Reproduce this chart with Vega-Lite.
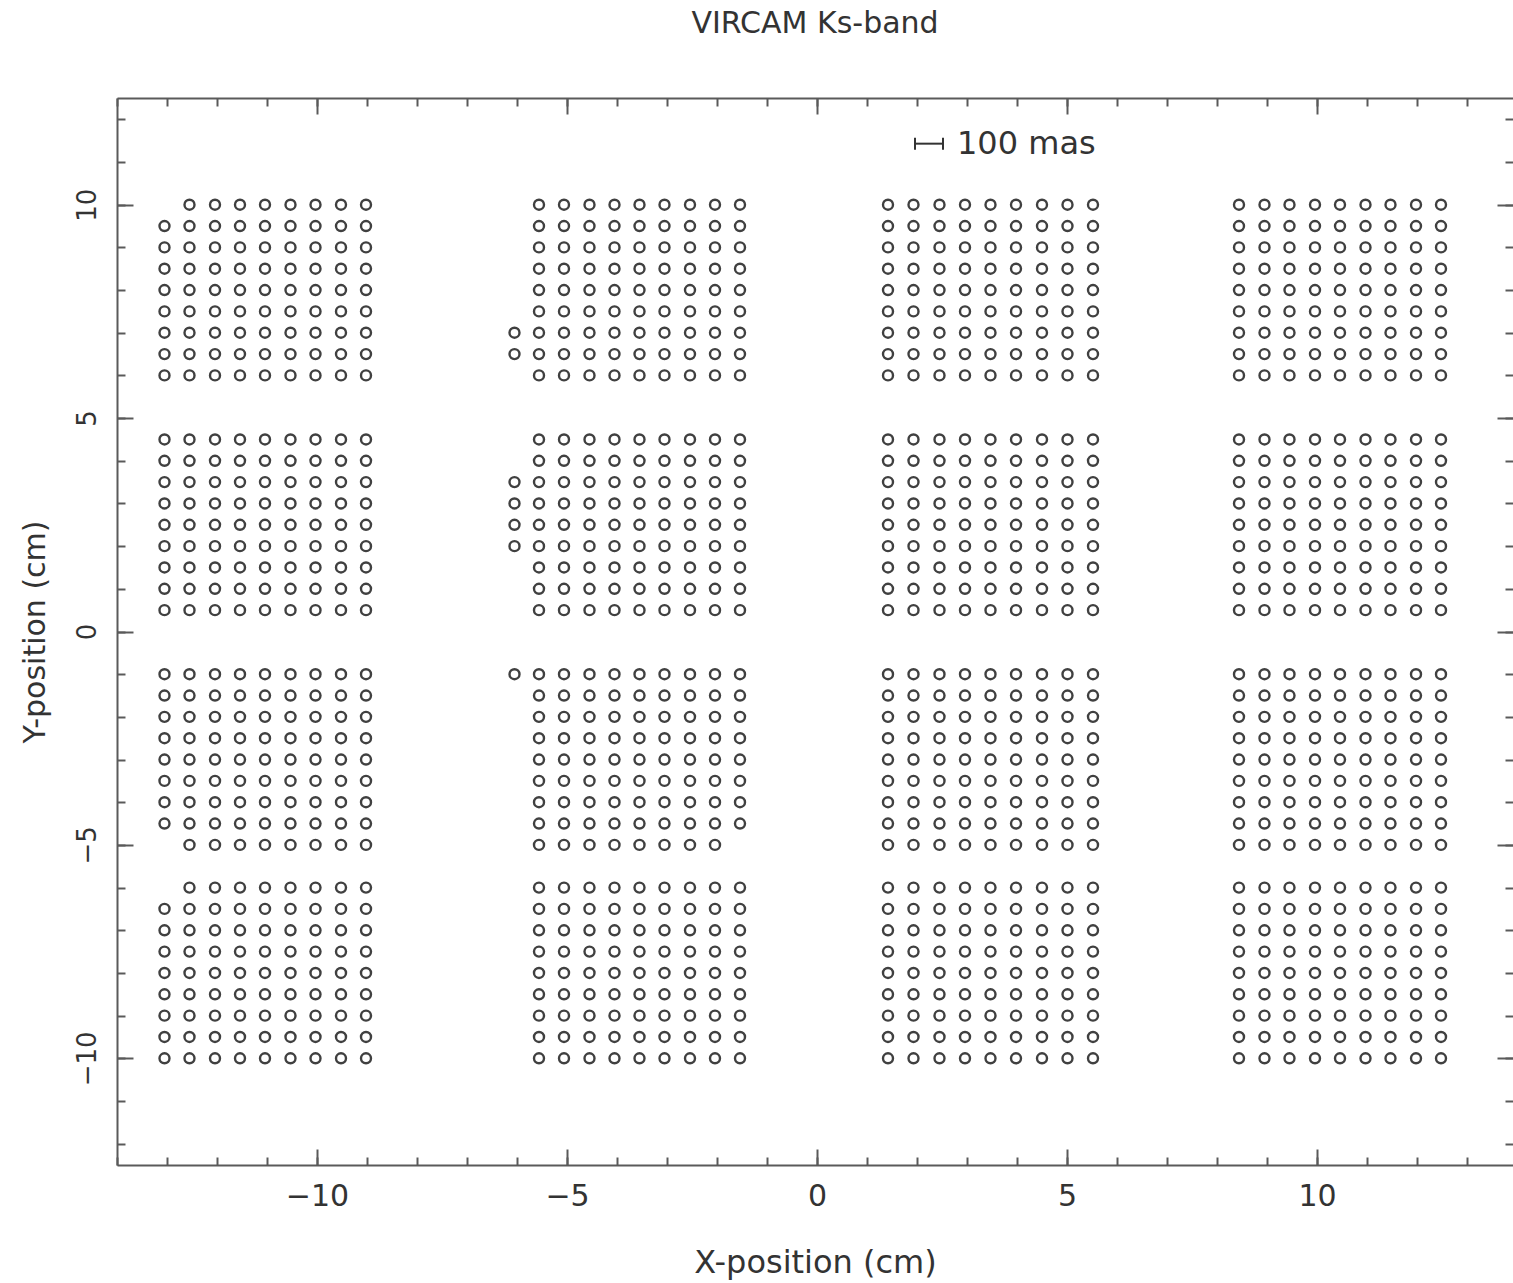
{
  "$schema": "https://vega.github.io/schema/vega-lite/v6.json",
  "width": 1396,
  "height": 1067,
  "autosize": {"type": "none"},
  "padding": {"left": 117, "top": 98, "right": 0, "bottom": 118},
  "background": "white",
  "title": {"text": "VIRCAM Ks-band", "anchor": "middle", "font": "DejaVu Sans", "fontSize": 30, "fontWeight": "normal", "color": "#333", "baseline": "alphabetic", "offset": 34},
  "datasets": {
    "pts": [
{"x":-12.55,"y":10},{"x":-12.04,"y":10},{"x":-11.54,"y":10},{"x":-11.04,"y":10},{"x":-10.53,"y":10},{"x":-10.03,"y":10},{"x":-9.52,"y":10},{"x":-9.02,"y":10},
{"x":-5.56,"y":10},{"x":-5.06,"y":10},{"x":-4.55,"y":10},{"x":-4.05,"y":10},{"x":-3.55,"y":10},{"x":-3.05,"y":10},{"x":-2.54,"y":10},{"x":-2.04,"y":10},{"x":-1.54,"y":10},
{"x":1.42,"y":10},{"x":1.93,"y":10},{"x":2.45,"y":10},{"x":2.96,"y":10},{"x":3.47,"y":10},{"x":3.98,"y":10},{"x":4.5,"y":10},{"x":5.01,"y":10},{"x":5.52,"y":10},
{"x":8.44,"y":10},{"x":8.95,"y":10},{"x":9.45,"y":10},{"x":9.96,"y":10},{"x":10.46,"y":10},{"x":10.97,"y":10},{"x":11.47,"y":10},{"x":11.98,"y":10},{"x":12.48,"y":10},
{"x":-13.05,"y":9.5},{"x":-12.55,"y":9.5},{"x":-12.04,"y":9.5},{"x":-11.54,"y":9.5},{"x":-11.04,"y":9.5},{"x":-10.53,"y":9.5},{"x":-10.03,"y":9.5},{"x":-9.52,"y":9.5},{"x":-9.02,"y":9.5},
{"x":-5.56,"y":9.5},{"x":-5.06,"y":9.5},{"x":-4.55,"y":9.5},{"x":-4.05,"y":9.5},{"x":-3.55,"y":9.5},{"x":-3.05,"y":9.5},{"x":-2.54,"y":9.5},{"x":-2.04,"y":9.5},{"x":-1.54,"y":9.5},
{"x":1.42,"y":9.5},{"x":1.93,"y":9.5},{"x":2.45,"y":9.5},{"x":2.96,"y":9.5},{"x":3.47,"y":9.5},{"x":3.98,"y":9.5},{"x":4.5,"y":9.5},{"x":5.01,"y":9.5},{"x":5.52,"y":9.5},
{"x":8.44,"y":9.5},{"x":8.95,"y":9.5},{"x":9.45,"y":9.5},{"x":9.96,"y":9.5},{"x":10.46,"y":9.5},{"x":10.97,"y":9.5},{"x":11.47,"y":9.5},{"x":11.98,"y":9.5},{"x":12.48,"y":9.5},
{"x":-13.05,"y":9},{"x":-12.55,"y":9},{"x":-12.04,"y":9},{"x":-11.54,"y":9},{"x":-11.04,"y":9},{"x":-10.53,"y":9},{"x":-10.03,"y":9},{"x":-9.52,"y":9},{"x":-9.02,"y":9},
{"x":-5.56,"y":9},{"x":-5.06,"y":9},{"x":-4.55,"y":9},{"x":-4.05,"y":9},{"x":-3.55,"y":9},{"x":-3.05,"y":9},{"x":-2.54,"y":9},{"x":-2.04,"y":9},{"x":-1.54,"y":9},
{"x":1.42,"y":9},{"x":1.93,"y":9},{"x":2.45,"y":9},{"x":2.96,"y":9},{"x":3.47,"y":9},{"x":3.98,"y":9},{"x":4.5,"y":9},{"x":5.01,"y":9},{"x":5.52,"y":9},
{"x":8.44,"y":9},{"x":8.95,"y":9},{"x":9.45,"y":9},{"x":9.96,"y":9},{"x":10.46,"y":9},{"x":10.97,"y":9},{"x":11.47,"y":9},{"x":11.98,"y":9},{"x":12.48,"y":9},
{"x":-13.05,"y":8.5},{"x":-12.55,"y":8.5},{"x":-12.04,"y":8.5},{"x":-11.54,"y":8.5},{"x":-11.04,"y":8.5},{"x":-10.53,"y":8.5},{"x":-10.03,"y":8.5},{"x":-9.52,"y":8.5},{"x":-9.02,"y":8.5},
{"x":-5.56,"y":8.5},{"x":-5.06,"y":8.5},{"x":-4.55,"y":8.5},{"x":-4.05,"y":8.5},{"x":-3.55,"y":8.5},{"x":-3.05,"y":8.5},{"x":-2.54,"y":8.5},{"x":-2.04,"y":8.5},{"x":-1.54,"y":8.5},
{"x":1.42,"y":8.5},{"x":1.93,"y":8.5},{"x":2.45,"y":8.5},{"x":2.96,"y":8.5},{"x":3.47,"y":8.5},{"x":3.98,"y":8.5},{"x":4.5,"y":8.5},{"x":5.01,"y":8.5},{"x":5.52,"y":8.5},
{"x":8.44,"y":8.5},{"x":8.95,"y":8.5},{"x":9.45,"y":8.5},{"x":9.96,"y":8.5},{"x":10.46,"y":8.5},{"x":10.97,"y":8.5},{"x":11.47,"y":8.5},{"x":11.98,"y":8.5},{"x":12.48,"y":8.5},
{"x":-13.05,"y":8},{"x":-12.55,"y":8},{"x":-12.04,"y":8},{"x":-11.54,"y":8},{"x":-11.04,"y":8},{"x":-10.53,"y":8},{"x":-10.03,"y":8},{"x":-9.52,"y":8},{"x":-9.02,"y":8},
{"x":-5.56,"y":8},{"x":-5.06,"y":8},{"x":-4.55,"y":8},{"x":-4.05,"y":8},{"x":-3.55,"y":8},{"x":-3.05,"y":8},{"x":-2.54,"y":8},{"x":-2.04,"y":8},{"x":-1.54,"y":8},
{"x":1.42,"y":8},{"x":1.93,"y":8},{"x":2.45,"y":8},{"x":2.96,"y":8},{"x":3.47,"y":8},{"x":3.98,"y":8},{"x":4.5,"y":8},{"x":5.01,"y":8},{"x":5.52,"y":8},
{"x":8.44,"y":8},{"x":8.95,"y":8},{"x":9.45,"y":8},{"x":9.96,"y":8},{"x":10.46,"y":8},{"x":10.97,"y":8},{"x":11.47,"y":8},{"x":11.98,"y":8},{"x":12.48,"y":8},
{"x":-13.05,"y":7.5},{"x":-12.55,"y":7.5},{"x":-12.04,"y":7.5},{"x":-11.54,"y":7.5},{"x":-11.04,"y":7.5},{"x":-10.53,"y":7.5},{"x":-10.03,"y":7.5},{"x":-9.52,"y":7.5},{"x":-9.02,"y":7.5},
{"x":-5.56,"y":7.5},{"x":-5.06,"y":7.5},{"x":-4.55,"y":7.5},{"x":-4.05,"y":7.5},{"x":-3.55,"y":7.5},{"x":-3.05,"y":7.5},{"x":-2.54,"y":7.5},{"x":-2.04,"y":7.5},{"x":-1.54,"y":7.5},
{"x":1.42,"y":7.5},{"x":1.93,"y":7.5},{"x":2.45,"y":7.5},{"x":2.96,"y":7.5},{"x":3.47,"y":7.5},{"x":3.98,"y":7.5},{"x":4.5,"y":7.5},{"x":5.01,"y":7.5},{"x":5.52,"y":7.5},
{"x":8.44,"y":7.5},{"x":8.95,"y":7.5},{"x":9.45,"y":7.5},{"x":9.96,"y":7.5},{"x":10.46,"y":7.5},{"x":10.97,"y":7.5},{"x":11.47,"y":7.5},{"x":11.98,"y":7.5},{"x":12.48,"y":7.5},
{"x":-13.05,"y":7},{"x":-12.55,"y":7},{"x":-12.04,"y":7},{"x":-11.54,"y":7},{"x":-11.04,"y":7},{"x":-10.53,"y":7},{"x":-10.03,"y":7},{"x":-9.52,"y":7},{"x":-9.02,"y":7},
{"x":-6.05,"y":7},{"x":-5.56,"y":7},{"x":-5.06,"y":7},{"x":-4.55,"y":7},{"x":-4.05,"y":7},{"x":-3.55,"y":7},{"x":-3.05,"y":7},{"x":-2.54,"y":7},{"x":-2.04,"y":7},{"x":-1.54,"y":7},
{"x":1.42,"y":7},{"x":1.93,"y":7},{"x":2.45,"y":7},{"x":2.96,"y":7},{"x":3.47,"y":7},{"x":3.98,"y":7},{"x":4.5,"y":7},{"x":5.01,"y":7},{"x":5.52,"y":7},
{"x":8.44,"y":7},{"x":8.95,"y":7},{"x":9.45,"y":7},{"x":9.96,"y":7},{"x":10.46,"y":7},{"x":10.97,"y":7},{"x":11.47,"y":7},{"x":11.98,"y":7},{"x":12.48,"y":7},
{"x":-13.05,"y":6.5},{"x":-12.55,"y":6.5},{"x":-12.04,"y":6.5},{"x":-11.54,"y":6.5},{"x":-11.04,"y":6.5},{"x":-10.53,"y":6.5},{"x":-10.03,"y":6.5},{"x":-9.52,"y":6.5},{"x":-9.02,"y":6.5},
{"x":-6.05,"y":6.5},{"x":-5.56,"y":6.5},{"x":-5.06,"y":6.5},{"x":-4.55,"y":6.5},{"x":-4.05,"y":6.5},{"x":-3.55,"y":6.5},{"x":-3.05,"y":6.5},{"x":-2.54,"y":6.5},{"x":-2.04,"y":6.5},{"x":-1.54,"y":6.5},
{"x":1.42,"y":6.5},{"x":1.93,"y":6.5},{"x":2.45,"y":6.5},{"x":2.96,"y":6.5},{"x":3.47,"y":6.5},{"x":3.98,"y":6.5},{"x":4.5,"y":6.5},{"x":5.01,"y":6.5},{"x":5.52,"y":6.5},
{"x":8.44,"y":6.5},{"x":8.95,"y":6.5},{"x":9.45,"y":6.5},{"x":9.96,"y":6.5},{"x":10.46,"y":6.5},{"x":10.97,"y":6.5},{"x":11.47,"y":6.5},{"x":11.98,"y":6.5},{"x":12.48,"y":6.5},
{"x":-13.05,"y":6},{"x":-12.55,"y":6},{"x":-12.04,"y":6},{"x":-11.54,"y":6},{"x":-11.04,"y":6},{"x":-10.53,"y":6},{"x":-10.03,"y":6},{"x":-9.52,"y":6},{"x":-9.02,"y":6},
{"x":-5.56,"y":6},{"x":-5.06,"y":6},{"x":-4.55,"y":6},{"x":-4.05,"y":6},{"x":-3.55,"y":6},{"x":-3.05,"y":6},{"x":-2.54,"y":6},{"x":-2.04,"y":6},{"x":-1.54,"y":6},
{"x":1.42,"y":6},{"x":1.93,"y":6},{"x":2.45,"y":6},{"x":2.96,"y":6},{"x":3.47,"y":6},{"x":3.98,"y":6},{"x":4.5,"y":6},{"x":5.01,"y":6},{"x":5.52,"y":6},
{"x":8.44,"y":6},{"x":8.95,"y":6},{"x":9.45,"y":6},{"x":9.96,"y":6},{"x":10.46,"y":6},{"x":10.97,"y":6},{"x":11.47,"y":6},{"x":11.98,"y":6},{"x":12.48,"y":6},
{"x":-13.05,"y":4.5},{"x":-12.55,"y":4.5},{"x":-12.04,"y":4.5},{"x":-11.54,"y":4.5},{"x":-11.04,"y":4.5},{"x":-10.53,"y":4.5},{"x":-10.03,"y":4.5},{"x":-9.52,"y":4.5},{"x":-9.02,"y":4.5},
{"x":-5.56,"y":4.5},{"x":-5.06,"y":4.5},{"x":-4.55,"y":4.5},{"x":-4.05,"y":4.5},{"x":-3.55,"y":4.5},{"x":-3.05,"y":4.5},{"x":-2.54,"y":4.5},{"x":-2.04,"y":4.5},{"x":-1.54,"y":4.5},
{"x":1.42,"y":4.5},{"x":1.93,"y":4.5},{"x":2.45,"y":4.5},{"x":2.96,"y":4.5},{"x":3.47,"y":4.5},{"x":3.98,"y":4.5},{"x":4.5,"y":4.5},{"x":5.01,"y":4.5},{"x":5.52,"y":4.5},
{"x":8.44,"y":4.5},{"x":8.95,"y":4.5},{"x":9.45,"y":4.5},{"x":9.96,"y":4.5},{"x":10.46,"y":4.5},{"x":10.97,"y":4.5},{"x":11.47,"y":4.5},{"x":11.98,"y":4.5},{"x":12.48,"y":4.5},
{"x":-13.05,"y":4},{"x":-12.55,"y":4},{"x":-12.04,"y":4},{"x":-11.54,"y":4},{"x":-11.04,"y":4},{"x":-10.53,"y":4},{"x":-10.03,"y":4},{"x":-9.52,"y":4},{"x":-9.02,"y":4},
{"x":-5.56,"y":4},{"x":-5.06,"y":4},{"x":-4.55,"y":4},{"x":-4.05,"y":4},{"x":-3.55,"y":4},{"x":-3.05,"y":4},{"x":-2.54,"y":4},{"x":-2.04,"y":4},{"x":-1.54,"y":4},
{"x":1.42,"y":4},{"x":1.93,"y":4},{"x":2.45,"y":4},{"x":2.96,"y":4},{"x":3.47,"y":4},{"x":3.98,"y":4},{"x":4.5,"y":4},{"x":5.01,"y":4},{"x":5.52,"y":4},
{"x":8.44,"y":4},{"x":8.95,"y":4},{"x":9.45,"y":4},{"x":9.96,"y":4},{"x":10.46,"y":4},{"x":10.97,"y":4},{"x":11.47,"y":4},{"x":11.98,"y":4},{"x":12.48,"y":4},
{"x":-13.05,"y":3.5},{"x":-12.55,"y":3.5},{"x":-12.04,"y":3.5},{"x":-11.54,"y":3.5},{"x":-11.04,"y":3.5},{"x":-10.53,"y":3.5},{"x":-10.03,"y":3.5},{"x":-9.52,"y":3.5},{"x":-9.02,"y":3.5},
{"x":-6.05,"y":3.5},{"x":-5.56,"y":3.5},{"x":-5.06,"y":3.5},{"x":-4.55,"y":3.5},{"x":-4.05,"y":3.5},{"x":-3.55,"y":3.5},{"x":-3.05,"y":3.5},{"x":-2.54,"y":3.5},{"x":-2.04,"y":3.5},{"x":-1.54,"y":3.5},
{"x":1.42,"y":3.5},{"x":1.93,"y":3.5},{"x":2.45,"y":3.5},{"x":2.96,"y":3.5},{"x":3.47,"y":3.5},{"x":3.98,"y":3.5},{"x":4.5,"y":3.5},{"x":5.01,"y":3.5},{"x":5.52,"y":3.5},
{"x":8.44,"y":3.5},{"x":8.95,"y":3.5},{"x":9.45,"y":3.5},{"x":9.96,"y":3.5},{"x":10.46,"y":3.5},{"x":10.97,"y":3.5},{"x":11.47,"y":3.5},{"x":11.98,"y":3.5},{"x":12.48,"y":3.5},
{"x":-13.05,"y":3},{"x":-12.55,"y":3},{"x":-12.04,"y":3},{"x":-11.54,"y":3},{"x":-11.04,"y":3},{"x":-10.53,"y":3},{"x":-10.03,"y":3},{"x":-9.52,"y":3},{"x":-9.02,"y":3},
{"x":-6.05,"y":3},{"x":-5.56,"y":3},{"x":-5.06,"y":3},{"x":-4.55,"y":3},{"x":-4.05,"y":3},{"x":-3.55,"y":3},{"x":-3.05,"y":3},{"x":-2.54,"y":3},{"x":-2.04,"y":3},{"x":-1.54,"y":3},
{"x":1.42,"y":3},{"x":1.93,"y":3},{"x":2.45,"y":3},{"x":2.96,"y":3},{"x":3.47,"y":3},{"x":3.98,"y":3},{"x":4.5,"y":3},{"x":5.01,"y":3},{"x":5.52,"y":3},
{"x":8.44,"y":3},{"x":8.95,"y":3},{"x":9.45,"y":3},{"x":9.96,"y":3},{"x":10.46,"y":3},{"x":10.97,"y":3},{"x":11.47,"y":3},{"x":11.98,"y":3},{"x":12.48,"y":3},
{"x":-13.05,"y":2.5},{"x":-12.55,"y":2.5},{"x":-12.04,"y":2.5},{"x":-11.54,"y":2.5},{"x":-11.04,"y":2.5},{"x":-10.53,"y":2.5},{"x":-10.03,"y":2.5},{"x":-9.52,"y":2.5},{"x":-9.02,"y":2.5},
{"x":-6.05,"y":2.5},{"x":-5.56,"y":2.5},{"x":-5.06,"y":2.5},{"x":-4.55,"y":2.5},{"x":-4.05,"y":2.5},{"x":-3.55,"y":2.5},{"x":-3.05,"y":2.5},{"x":-2.54,"y":2.5},{"x":-2.04,"y":2.5},{"x":-1.54,"y":2.5},
{"x":1.42,"y":2.5},{"x":1.93,"y":2.5},{"x":2.45,"y":2.5},{"x":2.96,"y":2.5},{"x":3.47,"y":2.5},{"x":3.98,"y":2.5},{"x":4.5,"y":2.5},{"x":5.01,"y":2.5},{"x":5.52,"y":2.5},
{"x":8.44,"y":2.5},{"x":8.95,"y":2.5},{"x":9.45,"y":2.5},{"x":9.96,"y":2.5},{"x":10.46,"y":2.5},{"x":10.97,"y":2.5},{"x":11.47,"y":2.5},{"x":11.98,"y":2.5},{"x":12.48,"y":2.5},
{"x":-13.05,"y":2},{"x":-12.55,"y":2},{"x":-12.04,"y":2},{"x":-11.54,"y":2},{"x":-11.04,"y":2},{"x":-10.53,"y":2},{"x":-10.03,"y":2},{"x":-9.52,"y":2},{"x":-9.02,"y":2},
{"x":-6.05,"y":2},{"x":-5.56,"y":2},{"x":-5.06,"y":2},{"x":-4.55,"y":2},{"x":-4.05,"y":2},{"x":-3.55,"y":2},{"x":-3.05,"y":2},{"x":-2.54,"y":2},{"x":-2.04,"y":2},{"x":-1.54,"y":2},
{"x":1.42,"y":2},{"x":1.93,"y":2},{"x":2.45,"y":2},{"x":2.96,"y":2},{"x":3.47,"y":2},{"x":3.98,"y":2},{"x":4.5,"y":2},{"x":5.01,"y":2},{"x":5.52,"y":2},
{"x":8.44,"y":2},{"x":8.95,"y":2},{"x":9.45,"y":2},{"x":9.96,"y":2},{"x":10.46,"y":2},{"x":10.97,"y":2},{"x":11.47,"y":2},{"x":11.98,"y":2},{"x":12.48,"y":2},
{"x":-13.05,"y":1.5},{"x":-12.55,"y":1.5},{"x":-12.04,"y":1.5},{"x":-11.54,"y":1.5},{"x":-11.04,"y":1.5},{"x":-10.53,"y":1.5},{"x":-10.03,"y":1.5},{"x":-9.52,"y":1.5},{"x":-9.02,"y":1.5},
{"x":-5.56,"y":1.5},{"x":-5.06,"y":1.5},{"x":-4.55,"y":1.5},{"x":-4.05,"y":1.5},{"x":-3.55,"y":1.5},{"x":-3.05,"y":1.5},{"x":-2.54,"y":1.5},{"x":-2.04,"y":1.5},{"x":-1.54,"y":1.5},
{"x":1.42,"y":1.5},{"x":1.93,"y":1.5},{"x":2.45,"y":1.5},{"x":2.96,"y":1.5},{"x":3.47,"y":1.5},{"x":3.98,"y":1.5},{"x":4.5,"y":1.5},{"x":5.01,"y":1.5},{"x":5.52,"y":1.5},
{"x":8.44,"y":1.5},{"x":8.95,"y":1.5},{"x":9.45,"y":1.5},{"x":9.96,"y":1.5},{"x":10.46,"y":1.5},{"x":10.97,"y":1.5},{"x":11.47,"y":1.5},{"x":11.98,"y":1.5},{"x":12.48,"y":1.5},
{"x":-13.05,"y":1},{"x":-12.55,"y":1},{"x":-12.04,"y":1},{"x":-11.54,"y":1},{"x":-11.04,"y":1},{"x":-10.53,"y":1},{"x":-10.03,"y":1},{"x":-9.52,"y":1},{"x":-9.02,"y":1},
{"x":-5.56,"y":1},{"x":-5.06,"y":1},{"x":-4.55,"y":1},{"x":-4.05,"y":1},{"x":-3.55,"y":1},{"x":-3.05,"y":1},{"x":-2.54,"y":1},{"x":-2.04,"y":1},{"x":-1.54,"y":1},
{"x":1.42,"y":1},{"x":1.93,"y":1},{"x":2.45,"y":1},{"x":2.96,"y":1},{"x":3.47,"y":1},{"x":3.98,"y":1},{"x":4.5,"y":1},{"x":5.01,"y":1},{"x":5.52,"y":1},
{"x":8.44,"y":1},{"x":8.95,"y":1},{"x":9.45,"y":1},{"x":9.96,"y":1},{"x":10.46,"y":1},{"x":10.97,"y":1},{"x":11.47,"y":1},{"x":11.98,"y":1},{"x":12.48,"y":1},
{"x":-13.05,"y":0.5},{"x":-12.55,"y":0.5},{"x":-12.04,"y":0.5},{"x":-11.54,"y":0.5},{"x":-11.04,"y":0.5},{"x":-10.53,"y":0.5},{"x":-10.03,"y":0.5},{"x":-9.52,"y":0.5},{"x":-9.02,"y":0.5},
{"x":-5.56,"y":0.5},{"x":-5.06,"y":0.5},{"x":-4.55,"y":0.5},{"x":-4.05,"y":0.5},{"x":-3.55,"y":0.5},{"x":-3.05,"y":0.5},{"x":-2.54,"y":0.5},{"x":-2.04,"y":0.5},{"x":-1.54,"y":0.5},
{"x":1.42,"y":0.5},{"x":1.93,"y":0.5},{"x":2.45,"y":0.5},{"x":2.96,"y":0.5},{"x":3.47,"y":0.5},{"x":3.98,"y":0.5},{"x":4.5,"y":0.5},{"x":5.01,"y":0.5},{"x":5.52,"y":0.5},
{"x":8.44,"y":0.5},{"x":8.95,"y":0.5},{"x":9.45,"y":0.5},{"x":9.96,"y":0.5},{"x":10.46,"y":0.5},{"x":10.97,"y":0.5},{"x":11.47,"y":0.5},{"x":11.98,"y":0.5},{"x":12.48,"y":0.5},
{"x":-13.05,"y":-1},{"x":-12.55,"y":-1},{"x":-12.04,"y":-1},{"x":-11.54,"y":-1},{"x":-11.04,"y":-1},{"x":-10.53,"y":-1},{"x":-10.03,"y":-1},{"x":-9.52,"y":-1},{"x":-9.02,"y":-1},
{"x":-6.05,"y":-1},{"x":-5.56,"y":-1},{"x":-5.06,"y":-1},{"x":-4.55,"y":-1},{"x":-4.05,"y":-1},{"x":-3.55,"y":-1},{"x":-3.05,"y":-1},{"x":-2.54,"y":-1},{"x":-2.04,"y":-1},{"x":-1.54,"y":-1},
{"x":1.42,"y":-1},{"x":1.93,"y":-1},{"x":2.45,"y":-1},{"x":2.96,"y":-1},{"x":3.47,"y":-1},{"x":3.98,"y":-1},{"x":4.5,"y":-1},{"x":5.01,"y":-1},{"x":5.52,"y":-1},
{"x":8.44,"y":-1},{"x":8.95,"y":-1},{"x":9.45,"y":-1},{"x":9.96,"y":-1},{"x":10.46,"y":-1},{"x":10.97,"y":-1},{"x":11.47,"y":-1},{"x":11.98,"y":-1},{"x":12.48,"y":-1},
{"x":-13.05,"y":-1.5},{"x":-12.55,"y":-1.5},{"x":-12.04,"y":-1.5},{"x":-11.54,"y":-1.5},{"x":-11.04,"y":-1.5},{"x":-10.53,"y":-1.5},{"x":-10.03,"y":-1.5},{"x":-9.52,"y":-1.5},{"x":-9.02,"y":-1.5},
{"x":-5.56,"y":-1.5},{"x":-5.06,"y":-1.5},{"x":-4.55,"y":-1.5},{"x":-4.05,"y":-1.5},{"x":-3.55,"y":-1.5},{"x":-3.05,"y":-1.5},{"x":-2.54,"y":-1.5},{"x":-2.04,"y":-1.5},{"x":-1.54,"y":-1.5},
{"x":1.42,"y":-1.5},{"x":1.93,"y":-1.5},{"x":2.45,"y":-1.5},{"x":2.96,"y":-1.5},{"x":3.47,"y":-1.5},{"x":3.98,"y":-1.5},{"x":4.5,"y":-1.5},{"x":5.01,"y":-1.5},{"x":5.52,"y":-1.5},
{"x":8.44,"y":-1.5},{"x":8.95,"y":-1.5},{"x":9.45,"y":-1.5},{"x":9.96,"y":-1.5},{"x":10.46,"y":-1.5},{"x":10.97,"y":-1.5},{"x":11.47,"y":-1.5},{"x":11.98,"y":-1.5},{"x":12.48,"y":-1.5},
{"x":-13.05,"y":-2},{"x":-12.55,"y":-2},{"x":-12.04,"y":-2},{"x":-11.54,"y":-2},{"x":-11.04,"y":-2},{"x":-10.53,"y":-2},{"x":-10.03,"y":-2},{"x":-9.52,"y":-2},{"x":-9.02,"y":-2},
{"x":-5.56,"y":-2},{"x":-5.06,"y":-2},{"x":-4.55,"y":-2},{"x":-4.05,"y":-2},{"x":-3.55,"y":-2},{"x":-3.05,"y":-2},{"x":-2.54,"y":-2},{"x":-2.04,"y":-2},{"x":-1.54,"y":-2},
{"x":1.42,"y":-2},{"x":1.93,"y":-2},{"x":2.45,"y":-2},{"x":2.96,"y":-2},{"x":3.47,"y":-2},{"x":3.98,"y":-2},{"x":4.5,"y":-2},{"x":5.01,"y":-2},{"x":5.52,"y":-2},
{"x":8.44,"y":-2},{"x":8.95,"y":-2},{"x":9.45,"y":-2},{"x":9.96,"y":-2},{"x":10.46,"y":-2},{"x":10.97,"y":-2},{"x":11.47,"y":-2},{"x":11.98,"y":-2},{"x":12.48,"y":-2},
{"x":-13.05,"y":-2.5},{"x":-12.55,"y":-2.5},{"x":-12.04,"y":-2.5},{"x":-11.54,"y":-2.5},{"x":-11.04,"y":-2.5},{"x":-10.53,"y":-2.5},{"x":-10.03,"y":-2.5},{"x":-9.52,"y":-2.5},{"x":-9.02,"y":-2.5},
{"x":-5.56,"y":-2.5},{"x":-5.06,"y":-2.5},{"x":-4.55,"y":-2.5},{"x":-4.05,"y":-2.5},{"x":-3.55,"y":-2.5},{"x":-3.05,"y":-2.5},{"x":-2.54,"y":-2.5},{"x":-2.04,"y":-2.5},{"x":-1.54,"y":-2.5},
{"x":1.42,"y":-2.5},{"x":1.93,"y":-2.5},{"x":2.45,"y":-2.5},{"x":2.96,"y":-2.5},{"x":3.47,"y":-2.5},{"x":3.98,"y":-2.5},{"x":4.5,"y":-2.5},{"x":5.01,"y":-2.5},{"x":5.52,"y":-2.5},
{"x":8.44,"y":-2.5},{"x":8.95,"y":-2.5},{"x":9.45,"y":-2.5},{"x":9.96,"y":-2.5},{"x":10.46,"y":-2.5},{"x":10.97,"y":-2.5},{"x":11.47,"y":-2.5},{"x":11.98,"y":-2.5},{"x":12.48,"y":-2.5},
{"x":-13.05,"y":-3},{"x":-12.55,"y":-3},{"x":-12.04,"y":-3},{"x":-11.54,"y":-3},{"x":-11.04,"y":-3},{"x":-10.53,"y":-3},{"x":-10.03,"y":-3},{"x":-9.52,"y":-3},{"x":-9.02,"y":-3},
{"x":-5.56,"y":-3},{"x":-5.06,"y":-3},{"x":-4.55,"y":-3},{"x":-4.05,"y":-3},{"x":-3.55,"y":-3},{"x":-3.05,"y":-3},{"x":-2.54,"y":-3},{"x":-2.04,"y":-3},{"x":-1.54,"y":-3},
{"x":1.42,"y":-3},{"x":1.93,"y":-3},{"x":2.45,"y":-3},{"x":2.96,"y":-3},{"x":3.47,"y":-3},{"x":3.98,"y":-3},{"x":4.5,"y":-3},{"x":5.01,"y":-3},{"x":5.52,"y":-3},
{"x":8.44,"y":-3},{"x":8.95,"y":-3},{"x":9.45,"y":-3},{"x":9.96,"y":-3},{"x":10.46,"y":-3},{"x":10.97,"y":-3},{"x":11.47,"y":-3},{"x":11.98,"y":-3},{"x":12.48,"y":-3},
{"x":-13.05,"y":-3.5},{"x":-12.55,"y":-3.5},{"x":-12.04,"y":-3.5},{"x":-11.54,"y":-3.5},{"x":-11.04,"y":-3.5},{"x":-10.53,"y":-3.5},{"x":-10.03,"y":-3.5},{"x":-9.52,"y":-3.5},{"x":-9.02,"y":-3.5},
{"x":-5.56,"y":-3.5},{"x":-5.06,"y":-3.5},{"x":-4.55,"y":-3.5},{"x":-4.05,"y":-3.5},{"x":-3.55,"y":-3.5},{"x":-3.05,"y":-3.5},{"x":-2.54,"y":-3.5},{"x":-2.04,"y":-3.5},{"x":-1.54,"y":-3.5},
{"x":1.42,"y":-3.5},{"x":1.93,"y":-3.5},{"x":2.45,"y":-3.5},{"x":2.96,"y":-3.5},{"x":3.47,"y":-3.5},{"x":3.98,"y":-3.5},{"x":4.5,"y":-3.5},{"x":5.01,"y":-3.5},{"x":5.52,"y":-3.5},
{"x":8.44,"y":-3.5},{"x":8.95,"y":-3.5},{"x":9.45,"y":-3.5},{"x":9.96,"y":-3.5},{"x":10.46,"y":-3.5},{"x":10.97,"y":-3.5},{"x":11.47,"y":-3.5},{"x":11.98,"y":-3.5},{"x":12.48,"y":-3.5},
{"x":-13.05,"y":-4},{"x":-12.55,"y":-4},{"x":-12.04,"y":-4},{"x":-11.54,"y":-4},{"x":-11.04,"y":-4},{"x":-10.53,"y":-4},{"x":-10.03,"y":-4},{"x":-9.52,"y":-4},{"x":-9.02,"y":-4},
{"x":-5.56,"y":-4},{"x":-5.06,"y":-4},{"x":-4.55,"y":-4},{"x":-4.05,"y":-4},{"x":-3.55,"y":-4},{"x":-3.05,"y":-4},{"x":-2.54,"y":-4},{"x":-2.04,"y":-4},{"x":-1.54,"y":-4},
{"x":1.42,"y":-4},{"x":1.93,"y":-4},{"x":2.45,"y":-4},{"x":2.96,"y":-4},{"x":3.47,"y":-4},{"x":3.98,"y":-4},{"x":4.5,"y":-4},{"x":5.01,"y":-4},{"x":5.52,"y":-4},
{"x":8.44,"y":-4},{"x":8.95,"y":-4},{"x":9.45,"y":-4},{"x":9.96,"y":-4},{"x":10.46,"y":-4},{"x":10.97,"y":-4},{"x":11.47,"y":-4},{"x":11.98,"y":-4},{"x":12.48,"y":-4},
{"x":-13.05,"y":-4.5},{"x":-12.55,"y":-4.5},{"x":-12.04,"y":-4.5},{"x":-11.54,"y":-4.5},{"x":-11.04,"y":-4.5},{"x":-10.53,"y":-4.5},{"x":-10.03,"y":-4.5},{"x":-9.52,"y":-4.5},{"x":-9.02,"y":-4.5},
{"x":-5.56,"y":-4.5},{"x":-5.06,"y":-4.5},{"x":-4.55,"y":-4.5},{"x":-4.05,"y":-4.5},{"x":-3.55,"y":-4.5},{"x":-3.05,"y":-4.5},{"x":-2.54,"y":-4.5},{"x":-2.04,"y":-4.5},{"x":-1.54,"y":-4.5},
{"x":1.42,"y":-4.5},{"x":1.93,"y":-4.5},{"x":2.45,"y":-4.5},{"x":2.96,"y":-4.5},{"x":3.47,"y":-4.5},{"x":3.98,"y":-4.5},{"x":4.5,"y":-4.5},{"x":5.01,"y":-4.5},{"x":5.52,"y":-4.5},
{"x":8.44,"y":-4.5},{"x":8.95,"y":-4.5},{"x":9.45,"y":-4.5},{"x":9.96,"y":-4.5},{"x":10.46,"y":-4.5},{"x":10.97,"y":-4.5},{"x":11.47,"y":-4.5},{"x":11.98,"y":-4.5},{"x":12.48,"y":-4.5},
{"x":-12.55,"y":-5},{"x":-12.04,"y":-5},{"x":-11.54,"y":-5},{"x":-11.04,"y":-5},{"x":-10.53,"y":-5},{"x":-10.03,"y":-5},{"x":-9.52,"y":-5},{"x":-9.02,"y":-5},
{"x":-5.56,"y":-5},{"x":-5.06,"y":-5},{"x":-4.55,"y":-5},{"x":-4.05,"y":-5},{"x":-3.55,"y":-5},{"x":-3.05,"y":-5},{"x":-2.54,"y":-5},{"x":-2.04,"y":-5},
{"x":1.42,"y":-5},{"x":1.93,"y":-5},{"x":2.45,"y":-5},{"x":2.96,"y":-5},{"x":3.47,"y":-5},{"x":3.98,"y":-5},{"x":4.5,"y":-5},{"x":5.01,"y":-5},{"x":5.52,"y":-5},
{"x":8.44,"y":-5},{"x":8.95,"y":-5},{"x":9.45,"y":-5},{"x":9.96,"y":-5},{"x":10.46,"y":-5},{"x":10.97,"y":-5},{"x":11.47,"y":-5},{"x":11.98,"y":-5},{"x":12.48,"y":-5},
{"x":-12.55,"y":-6},{"x":-12.04,"y":-6},{"x":-11.54,"y":-6},{"x":-11.04,"y":-6},{"x":-10.53,"y":-6},{"x":-10.03,"y":-6},{"x":-9.52,"y":-6},{"x":-9.02,"y":-6},
{"x":-5.56,"y":-6},{"x":-5.06,"y":-6},{"x":-4.55,"y":-6},{"x":-4.05,"y":-6},{"x":-3.55,"y":-6},{"x":-3.05,"y":-6},{"x":-2.54,"y":-6},{"x":-2.04,"y":-6},{"x":-1.54,"y":-6},
{"x":1.42,"y":-6},{"x":1.93,"y":-6},{"x":2.45,"y":-6},{"x":2.96,"y":-6},{"x":3.47,"y":-6},{"x":3.98,"y":-6},{"x":4.5,"y":-6},{"x":5.01,"y":-6},{"x":5.52,"y":-6},
{"x":8.44,"y":-6},{"x":8.95,"y":-6},{"x":9.45,"y":-6},{"x":9.96,"y":-6},{"x":10.46,"y":-6},{"x":10.97,"y":-6},{"x":11.47,"y":-6},{"x":11.98,"y":-6},{"x":12.48,"y":-6},
{"x":-13.05,"y":-6.5},{"x":-12.55,"y":-6.5},{"x":-12.04,"y":-6.5},{"x":-11.54,"y":-6.5},{"x":-11.04,"y":-6.5},{"x":-10.53,"y":-6.5},{"x":-10.03,"y":-6.5},{"x":-9.52,"y":-6.5},{"x":-9.02,"y":-6.5},
{"x":-5.56,"y":-6.5},{"x":-5.06,"y":-6.5},{"x":-4.55,"y":-6.5},{"x":-4.05,"y":-6.5},{"x":-3.55,"y":-6.5},{"x":-3.05,"y":-6.5},{"x":-2.54,"y":-6.5},{"x":-2.04,"y":-6.5},{"x":-1.54,"y":-6.5},
{"x":1.42,"y":-6.5},{"x":1.93,"y":-6.5},{"x":2.45,"y":-6.5},{"x":2.96,"y":-6.5},{"x":3.47,"y":-6.5},{"x":3.98,"y":-6.5},{"x":4.5,"y":-6.5},{"x":5.01,"y":-6.5},{"x":5.52,"y":-6.5},
{"x":8.44,"y":-6.5},{"x":8.95,"y":-6.5},{"x":9.45,"y":-6.5},{"x":9.96,"y":-6.5},{"x":10.46,"y":-6.5},{"x":10.97,"y":-6.5},{"x":11.47,"y":-6.5},{"x":11.98,"y":-6.5},{"x":12.48,"y":-6.5},
{"x":-13.05,"y":-7},{"x":-12.55,"y":-7},{"x":-12.04,"y":-7},{"x":-11.54,"y":-7},{"x":-11.04,"y":-7},{"x":-10.53,"y":-7},{"x":-10.03,"y":-7},{"x":-9.52,"y":-7},{"x":-9.02,"y":-7},
{"x":-5.56,"y":-7},{"x":-5.06,"y":-7},{"x":-4.55,"y":-7},{"x":-4.05,"y":-7},{"x":-3.55,"y":-7},{"x":-3.05,"y":-7},{"x":-2.54,"y":-7},{"x":-2.04,"y":-7},{"x":-1.54,"y":-7},
{"x":1.42,"y":-7},{"x":1.93,"y":-7},{"x":2.45,"y":-7},{"x":2.96,"y":-7},{"x":3.47,"y":-7},{"x":3.98,"y":-7},{"x":4.5,"y":-7},{"x":5.01,"y":-7},{"x":5.52,"y":-7},
{"x":8.44,"y":-7},{"x":8.95,"y":-7},{"x":9.45,"y":-7},{"x":9.96,"y":-7},{"x":10.46,"y":-7},{"x":10.97,"y":-7},{"x":11.47,"y":-7},{"x":11.98,"y":-7},{"x":12.48,"y":-7},
{"x":-13.05,"y":-7.5},{"x":-12.55,"y":-7.5},{"x":-12.04,"y":-7.5},{"x":-11.54,"y":-7.5},{"x":-11.04,"y":-7.5},{"x":-10.53,"y":-7.5},{"x":-10.03,"y":-7.5},{"x":-9.52,"y":-7.5},{"x":-9.02,"y":-7.5},
{"x":-5.56,"y":-7.5},{"x":-5.06,"y":-7.5},{"x":-4.55,"y":-7.5},{"x":-4.05,"y":-7.5},{"x":-3.55,"y":-7.5},{"x":-3.05,"y":-7.5},{"x":-2.54,"y":-7.5},{"x":-2.04,"y":-7.5},{"x":-1.54,"y":-7.5},
{"x":1.42,"y":-7.5},{"x":1.93,"y":-7.5},{"x":2.45,"y":-7.5},{"x":2.96,"y":-7.5},{"x":3.47,"y":-7.5},{"x":3.98,"y":-7.5},{"x":4.5,"y":-7.5},{"x":5.01,"y":-7.5},{"x":5.52,"y":-7.5},
{"x":8.44,"y":-7.5},{"x":8.95,"y":-7.5},{"x":9.45,"y":-7.5},{"x":9.96,"y":-7.5},{"x":10.46,"y":-7.5},{"x":10.97,"y":-7.5},{"x":11.47,"y":-7.5},{"x":11.98,"y":-7.5},{"x":12.48,"y":-7.5},
{"x":-13.05,"y":-8},{"x":-12.55,"y":-8},{"x":-12.04,"y":-8},{"x":-11.54,"y":-8},{"x":-11.04,"y":-8},{"x":-10.53,"y":-8},{"x":-10.03,"y":-8},{"x":-9.52,"y":-8},{"x":-9.02,"y":-8},
{"x":-5.56,"y":-8},{"x":-5.06,"y":-8},{"x":-4.55,"y":-8},{"x":-4.05,"y":-8},{"x":-3.55,"y":-8},{"x":-3.05,"y":-8},{"x":-2.54,"y":-8},{"x":-2.04,"y":-8},{"x":-1.54,"y":-8},
{"x":1.42,"y":-8},{"x":1.93,"y":-8},{"x":2.45,"y":-8},{"x":2.96,"y":-8},{"x":3.47,"y":-8},{"x":3.98,"y":-8},{"x":4.5,"y":-8},{"x":5.01,"y":-8},{"x":5.52,"y":-8},
{"x":8.44,"y":-8},{"x":8.95,"y":-8},{"x":9.45,"y":-8},{"x":9.96,"y":-8},{"x":10.46,"y":-8},{"x":10.97,"y":-8},{"x":11.47,"y":-8},{"x":11.98,"y":-8},{"x":12.48,"y":-8},
{"x":-13.05,"y":-8.5},{"x":-12.55,"y":-8.5},{"x":-12.04,"y":-8.5},{"x":-11.54,"y":-8.5},{"x":-11.04,"y":-8.5},{"x":-10.53,"y":-8.5},{"x":-10.03,"y":-8.5},{"x":-9.52,"y":-8.5},{"x":-9.02,"y":-8.5},
{"x":-5.56,"y":-8.5},{"x":-5.06,"y":-8.5},{"x":-4.55,"y":-8.5},{"x":-4.05,"y":-8.5},{"x":-3.55,"y":-8.5},{"x":-3.05,"y":-8.5},{"x":-2.54,"y":-8.5},{"x":-2.04,"y":-8.5},{"x":-1.54,"y":-8.5},
{"x":1.42,"y":-8.5},{"x":1.93,"y":-8.5},{"x":2.45,"y":-8.5},{"x":2.96,"y":-8.5},{"x":3.47,"y":-8.5},{"x":3.98,"y":-8.5},{"x":4.5,"y":-8.5},{"x":5.01,"y":-8.5},{"x":5.52,"y":-8.5},
{"x":8.44,"y":-8.5},{"x":8.95,"y":-8.5},{"x":9.45,"y":-8.5},{"x":9.96,"y":-8.5},{"x":10.46,"y":-8.5},{"x":10.97,"y":-8.5},{"x":11.47,"y":-8.5},{"x":11.98,"y":-8.5},{"x":12.48,"y":-8.5},
{"x":-13.05,"y":-9},{"x":-12.55,"y":-9},{"x":-12.04,"y":-9},{"x":-11.54,"y":-9},{"x":-11.04,"y":-9},{"x":-10.53,"y":-9},{"x":-10.03,"y":-9},{"x":-9.52,"y":-9},{"x":-9.02,"y":-9},
{"x":-5.56,"y":-9},{"x":-5.06,"y":-9},{"x":-4.55,"y":-9},{"x":-4.05,"y":-9},{"x":-3.55,"y":-9},{"x":-3.05,"y":-9},{"x":-2.54,"y":-9},{"x":-2.04,"y":-9},{"x":-1.54,"y":-9},
{"x":1.42,"y":-9},{"x":1.93,"y":-9},{"x":2.45,"y":-9},{"x":2.96,"y":-9},{"x":3.47,"y":-9},{"x":3.98,"y":-9},{"x":4.5,"y":-9},{"x":5.01,"y":-9},{"x":5.52,"y":-9},
{"x":8.44,"y":-9},{"x":8.95,"y":-9},{"x":9.45,"y":-9},{"x":9.96,"y":-9},{"x":10.46,"y":-9},{"x":10.97,"y":-9},{"x":11.47,"y":-9},{"x":11.98,"y":-9},{"x":12.48,"y":-9},
{"x":-13.05,"y":-9.5},{"x":-12.55,"y":-9.5},{"x":-12.04,"y":-9.5},{"x":-11.54,"y":-9.5},{"x":-11.04,"y":-9.5},{"x":-10.53,"y":-9.5},{"x":-10.03,"y":-9.5},{"x":-9.52,"y":-9.5},{"x":-9.02,"y":-9.5},
{"x":-5.56,"y":-9.5},{"x":-5.06,"y":-9.5},{"x":-4.55,"y":-9.5},{"x":-4.05,"y":-9.5},{"x":-3.55,"y":-9.5},{"x":-3.05,"y":-9.5},{"x":-2.54,"y":-9.5},{"x":-2.04,"y":-9.5},{"x":-1.54,"y":-9.5},
{"x":1.42,"y":-9.5},{"x":1.93,"y":-9.5},{"x":2.45,"y":-9.5},{"x":2.96,"y":-9.5},{"x":3.47,"y":-9.5},{"x":3.98,"y":-9.5},{"x":4.5,"y":-9.5},{"x":5.01,"y":-9.5},{"x":5.52,"y":-9.5},
{"x":8.44,"y":-9.5},{"x":8.95,"y":-9.5},{"x":9.45,"y":-9.5},{"x":9.96,"y":-9.5},{"x":10.46,"y":-9.5},{"x":10.97,"y":-9.5},{"x":11.47,"y":-9.5},{"x":11.98,"y":-9.5},{"x":12.48,"y":-9.5},
{"x":-13.05,"y":-10},{"x":-12.55,"y":-10},{"x":-12.04,"y":-10},{"x":-11.54,"y":-10},{"x":-11.04,"y":-10},{"x":-10.53,"y":-10},{"x":-10.03,"y":-10},{"x":-9.52,"y":-10},{"x":-9.02,"y":-10},
{"x":-5.56,"y":-10},{"x":-5.06,"y":-10},{"x":-4.55,"y":-10},{"x":-4.05,"y":-10},{"x":-3.55,"y":-10},{"x":-3.05,"y":-10},{"x":-2.54,"y":-10},{"x":-2.04,"y":-10},{"x":-1.54,"y":-10},
{"x":1.42,"y":-10},{"x":1.93,"y":-10},{"x":2.45,"y":-10},{"x":2.96,"y":-10},{"x":3.47,"y":-10},{"x":3.98,"y":-10},{"x":4.5,"y":-10},{"x":5.01,"y":-10},{"x":5.52,"y":-10},
{"x":8.44,"y":-10},{"x":8.95,"y":-10},{"x":9.45,"y":-10},{"x":9.96,"y":-10},{"x":10.46,"y":-10},{"x":10.97,"y":-10},{"x":11.47,"y":-10},{"x":11.98,"y":-10},{"x":12.48,"y":-10}
    ]
  },
  "layer": [
    {
      "data": {"name": "pts"},
      "mark": {"type": "point", "shape": "circle", "filled": false, "size": 100, "stroke": "#404040", "strokeWidth": 2.4, "opacity": 1},
      "encoding": {
        "x": {"field": "x", "type": "quantitative", "scale": {"domain": [-14, 13.92], "nice": false, "zero": false},
              "axis": {"orient": "bottom", "values": [-10, -5, 0, 5, 10], "tickSize": -16, "labelPadding": 32, "labelFontSize": 30, "title": "X-position (cm)", "titleFontSize": 32, "titlePadding": 36}},
        "y": {"field": "y", "type": "quantitative", "scale": {"domain": [-12.5, 12.5], "nice": false, "zero": false},
              "axis": {"orient": "left", "values": [-10, -5, 0, 5, 10], "tickSize": -16, "labelAngle": -90, "labelAlign": "center", "labelBaseline": "bottom", "labelPadding": 33, "labelFontSize": 26, "title": "Y-position (cm)", "titleFontSize": 30, "titlePadding": 24}}
      }
    },
    {
      "data": {"values": [{"x1": 1.96, "x2": 2.52, "y": 11.43}]},
      "mark": {"type": "rule", "stroke": "#333", "strokeWidth": 2},
      "encoding": {
        "x": {"field": "x1", "type": "quantitative", "scale": {"domain": [-14, 13.92], "nice": false, "zero": false},
              "axis": {"orient": "top", "values": [-10, -5, 0, 5, 10], "tickSize": -16, "labels": false, "title": null}},
        "x2": {"field": "x2"},
        "y": {"field": "y", "type": "quantitative", "scale": {"domain": [-12.5, 12.5], "nice": false, "zero": false},
              "axis": {"orient": "right", "values": [-10, -5, 0, 5, 10], "tickSize": -16, "labels": false, "domain": false, "title": null}}
      }
    },
    {
      "data": {"values": [{"x": 1.96, "y1": 11.29, "y2": 11.57}, {"x": 2.52, "y1": 11.29, "y2": 11.57}]},
      "mark": {"type": "rule", "stroke": "#333", "strokeWidth": 2},
      "encoding": {
        "x": {"field": "x", "type": "quantitative", "scale": {"domain": [-14, 13.92], "nice": false, "zero": false},
              "axis": {"orient": "bottom", "values": [-14,-13,-12,-11,-10,-9,-8,-7,-6,-5,-4,-3,-2,-1,0,1,2,3,4,5,6,7,8,9,10,11,12,13], "tickSize": -8, "labels": false, "domain": false, "title": null}},
        "y": {"field": "y1", "type": "quantitative", "scale": {"domain": [-12.5, 12.5], "nice": false, "zero": false},
              "axis": {"orient": "left", "values": [-12,-11,-10,-9,-8,-7,-6,-5,-4,-3,-2,-1,0,1,2,3,4,5,6,7,8,9,10,11,12], "tickSize": -8, "labels": false, "domain": false, "title": null}},
        "y2": {"field": "y2"}
      }
    },
    {
      "data": {"values": [{"x": 2.8, "y": 11.18, "label": "100 mas"}]},
      "mark": {"type": "text", "align": "left", "baseline": "alphabetic", "font": "DejaVu Sans", "fontSize": 32, "color": "#333"},
      "encoding": {
        "x": {"field": "x", "type": "quantitative", "scale": {"domain": [-14, 13.92], "nice": false, "zero": false},
              "axis": {"orient": "top", "values": [-14,-13,-12,-11,-10,-9,-8,-7,-6,-5,-4,-3,-2,-1,0,1,2,3,4,5,6,7,8,9,10,11,12,13], "tickSize": -8, "labels": false, "domain": false, "title": null}},
        "y": {"field": "y", "type": "quantitative", "scale": {"domain": [-12.5, 12.5], "nice": false, "zero": false},
              "axis": {"orient": "right", "values": [-12,-11,-10,-9,-8,-7,-6,-5,-4,-3,-2,-1,0,1,2,3,4,5,6,7,8,9,10,11,12], "tickSize": -8, "labels": false, "domain": false, "title": null}},
        "text": {"field": "label"}
      }
    }
  ],
  "resolve": {"axis": {"x": "independent", "y": "independent"}},
  "config": {
    "view": {"stroke": null},
    "axis": {"grid": false, "domainColor": "#5a5a5a", "domainWidth": 2, "tickColor": "#5a5a5a", "tickWidth": 2,
             "labelFont": "DejaVu Sans", "labelColor": "#333", "titleFont": "DejaVu Sans", "titleFontWeight": "normal", "titleColor": "#333", "labelFlush": false}
  }
}
